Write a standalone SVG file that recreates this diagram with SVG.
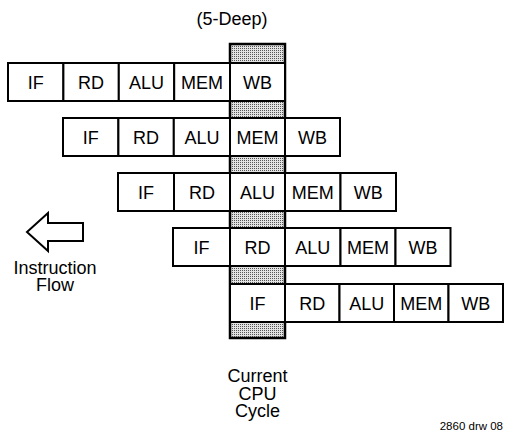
<svg xmlns="http://www.w3.org/2000/svg" width="505" height="434" viewBox="0 0 505 434">
<style>
.cell{fill:#fff;stroke:#000;stroke-width:2}
.t{font-family:"Liberation Sans",Arial,sans-serif;font-size:18px;fill:#000;text-anchor:middle}
.band{fill:url(#dots);stroke:#000;stroke-width:2.5}
</style>
<defs>
<pattern id="dots" width="2" height="2" patternUnits="userSpaceOnUse">
<rect width="2" height="2" fill="#e2e2e2"/>
<rect width="1" height="1" fill="#555"/>
</pattern>
</defs>
<rect width="505" height="434" fill="#fff"/>
<text class="t" x="232" y="25">(5-Deep)</text>
<g id="band"><rect class="band" x="230" y="44" width="55" height="294"/></g>
<g id="row1">
<rect class="cell" x="8" y="63" width="55.4" height="38"/><text class="t" x="35.7" y="88.5">IF</text>
<rect class="cell" x="63.4" y="63" width="55.4" height="38"/><text class="t" x="91.1" y="88.5">RD</text>
<rect class="cell" x="118.8" y="63" width="55.4" height="38"/><text class="t" x="146.5" y="88.5">ALU</text>
<rect class="cell" x="174.2" y="63" width="55.8" height="38"/><text class="t" x="202.1" y="88.5">MEM</text>
<rect class="cell" x="230" y="63" width="55" height="38"/><text class="t" x="257.5" y="88.5">WB</text>
</g>
<g id="row2">
<rect class="cell" x="63" y="118" width="55.4" height="38"/><text class="t" x="90.7" y="143.5">IF</text>
<rect class="cell" x="118.4" y="118" width="55.4" height="38"/><text class="t" x="146.1" y="143.5">RD</text>
<rect class="cell" x="173.8" y="118" width="56.2" height="38"/><text class="t" x="201.9" y="143.5">ALU</text>
<rect class="cell" x="230" y="118" width="55" height="38"/><text class="t" x="257.5" y="143.5">MEM</text>
<rect class="cell" x="285" y="118" width="55" height="38"/><text class="t" x="312.5" y="143.5">WB</text>
</g>
<g id="row3">
<rect class="cell" x="118" y="173" width="56" height="38"/><text class="t" x="146" y="198.5">IF</text>
<rect class="cell" x="174" y="173" width="56" height="38"/><text class="t" x="202" y="198.5">RD</text>
<rect class="cell" x="230" y="173" width="55" height="38"/><text class="t" x="257.5" y="198.5">ALU</text>
<rect class="cell" x="285" y="173" width="55.5" height="38"/><text class="t" x="312.7" y="198.5">MEM</text>
<rect class="cell" x="340.5" y="173" width="55.5" height="38"/><text class="t" x="368.2" y="198.5">WB</text>
</g>
<g id="row4">
<rect class="cell" x="173" y="228" width="57" height="38"/><text class="t" x="201.5" y="253.5">IF</text>
<rect class="cell" x="230" y="228" width="55" height="38"/><text class="t" x="257.5" y="253.5">RD</text>
<rect class="cell" x="285" y="228" width="55.5" height="38"/><text class="t" x="312.7" y="253.5">ALU</text>
<rect class="cell" x="340.5" y="228" width="55" height="38"/><text class="t" x="368" y="253.5">MEM</text>
<rect class="cell" x="395.5" y="228" width="55" height="38"/><text class="t" x="423" y="253.5">WB</text>
</g>
<g id="row5">
<rect class="cell" x="230" y="284" width="55" height="38"/><text class="t" x="257.5" y="309.5">IF</text>
<rect class="cell" x="285" y="284" width="54.5" height="38"/><text class="t" x="312.2" y="309.5">RD</text>
<rect class="cell" x="339.5" y="284" width="54.5" height="38"/><text class="t" x="366.7" y="309.5">ALU</text>
<rect class="cell" x="394" y="284" width="54.5" height="38"/><text class="t" x="421.2" y="309.5">MEM</text>
<rect class="cell" x="448.5" y="284" width="54.5" height="38"/><text class="t" x="475.7" y="309.5">WB</text>
</g>
<g id="flow">
<polygon points="27,232 48,213 48,223 83,223 83,241 48,241 48,251" fill="#fff" stroke="#000" stroke-width="2" stroke-linejoin="miter"/>
<text class="t" x="55" y="274">Instruction</text>
<text class="t" x="55" y="291">Flow</text>
</g>
<g id="cycle">
<text class="t" x="257.5" y="382">Current</text>
<text class="t" x="257.5" y="399.5">CPU</text>
<text class="t" x="257.5" y="417">Cycle</text>
</g>
<text x="503" y="430" font-family="Liberation Sans,Arial,sans-serif" font-size="11.5" text-anchor="end">2860 drw 08</text>
</svg>
